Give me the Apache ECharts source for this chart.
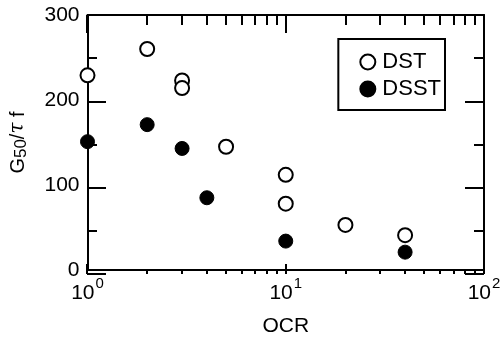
<!DOCTYPE html>
<html><head><meta charset="utf-8">
<script src="https://cdn.jsdelivr.net/npm/echarts@6/dist/echarts.min.js"></script>
<style>html,body{margin:0;padding:0;background:#fff}#c{width:504px;height:342px}</style>
</head><body><div id="c"></div>
<script>
var dstX = [1, 2, 3, 3, 5, 10, 10, 20, 40];
var dstY = [229, 260, 223, 214, 145, 112, 78, 53, 41];
var dsstX = [1, 2, 3, 4, 10, 40];
var dsstY = [151, 171, 143, 85, 34, 21];
var xMajor = [1, 10, 100];
var xMinor = [2, 3, 4, 5, 6, 7, 8, 9, 20, 30, 40, 50, 60, 70, 80, 90];
var xLabelExp = {1: '0', 10: '1', 100: '2'};
var yMajor = [0, 100, 200, 300];

function pairs(xs, ys) { return xs.map(function (x, i) { return [x, ys[i]]; }); }

var FONT = 'Liberation Sans, Arial, sans-serif';
var black = '#000';
var L = 87, R = 20, T = 15, B = 68;
var chart = echarts.init(document.getElementById('c'));

var grids = [{left: L, right: R, top: T, bottom: B}];
var xAxes = [], yAxes = [];
var line2 = {color: black, width: 2};

// main frame axes (grid 0)
xAxes.push({
  type: 'log', logBase: 10, min: 1, max: 100, position: 'bottom', gridIndex: 0,
  axisLine: {show: true, onZero: false, lineStyle: line2},
  axisTick: {show: false, customValues: xMajor},
  axisLabel: {
    show: true, customValues: xMajor, margin: 6, color: black, fontFamily: FONT,
    formatter: function (v) { return '{b|10}{s|' + xLabelExp[Math.round(v)] + '}'; },
    rich: {
      b: {fontSize: 21, fontFamily: FONT, color: black, verticalAlign: 'bottom', lineHeight: 28},
      s: {fontSize: 15, fontFamily: FONT, color: black, verticalAlign: 'top', lineHeight: 28, padding: [0, 0, 10, 1]}
    }
  },
  splitLine: {show: false},
  name: 'OCR', nameLocation: 'middle', nameGap: 46,
  nameTextStyle: {fontSize: 21, fontFamily: FONT, color: black}
});
xAxes.push({
  type: 'log', logBase: 10, min: 1, max: 100, position: 'top', gridIndex: 0,
  axisLine: {show: true, onZero: false, lineStyle: line2},
  axisTick: {show: false}, axisLabel: {show: false}, splitLine: {show: false}
});
yAxes.push({
  type: 'value', min: 0, max: 300, interval: 100, position: 'left', gridIndex: 0,
  axisLine: {show: true, onZero: false, lineStyle: line2},
  axisTick: {show: false},
  axisLabel: {show: true, margin: 8, fontSize: 21, fontFamily: FONT, color: black},
  splitLine: {show: false},
  name: '{a|G}{s|50}{a|/}{i|τ}{a| f}',
  nameLocation: 'middle', nameGap: 58, nameRotate: 90,
  nameTextStyle: {
    color: black,
    rich: {
      a: {fontSize: 20, fontFamily: FONT, color: black},
      s: {fontSize: 17, fontFamily: FONT, color: black, verticalAlign: 'bottom', padding: [6, 0, 0, 0]},
      i: {fontSize: 20, fontFamily: 'DejaVu Serif, serif', fontStyle: 'italic', color: black}
    }
  }
});
yAxes.push({
  type: 'value', min: 0, max: 300, interval: 100, position: 'right', gridIndex: 0,
  axisLine: {show: true, onZero: false, lineStyle: line2},
  axisTick: {show: false}, axisLabel: {show: false}, splitLine: {show: false}
});

// tick strips: small grids whose split lines are the inward ticks
function hiddenX(g) { return {type: 'log', logBase: 10, min: 1, max: 100, gridIndex: g, show: false, axisLine: {onZero: false}}; }
function hiddenY(g) { return {type: 'value', min: 0, max: 300, gridIndex: g, show: false, axisLine: {onZero: false}}; }
function xStrip(rect, vals) {
  var g = grids.length;
  grids.push(Object.assign({left: L, right: R}, rect));
  xAxes.push({
    type: 'log', logBase: 10, min: 1, max: 100, gridIndex: g,
    axisLine: {show: false, onZero: false},
    axisTick: {show: false, customValues: vals},
    axisLabel: {show: false},
    splitLine: {show: true, lineStyle: line2}
  });
  yAxes.push(hiddenY(g));
}
function yStrip(rect, step) {
  var g = grids.length;
  grids.push(Object.assign({top: T, bottom: B}, rect));
  yAxes.push({
    type: 'value', min: 0, max: 300, interval: step, gridIndex: g,
    axisLine: {show: false, onZero: false},
    axisTick: {show: false},
    axisLabel: {show: false},
    splitLine: {show: true, lineStyle: line2}
  });
  xAxes.push(hiddenX(g));
}
xStrip({bottom: B, height: 10}, xMajor);
xStrip({bottom: B, height: 5}, xMinor);
xStrip({top: T, height: 18}, xMajor);
xStrip({top: T, height: 10}, xMinor);
yStrip({left: L, width: 19}, 100);
yStrip({left: L, width: 10}, 50);
yStrip({right: R, width: 19}, 100);
yStrip({right: R, width: 10}, 50);

chart.setOption({
  backgroundColor: '#fff',
  animation: false,
  grid: grids,
  legend: {
    right: 59, top: 39, orient: 'vertical',
    borderColor: black, borderWidth: 2, borderRadius: 0,
    padding: [12, 4, 10, 21], itemGap: 5, itemWidth: 15, itemHeight: 15,
    textStyle: {fontSize: 22, fontFamily: FONT, color: black, padding: [0, 0, 0, 2]},
    data: [{name: 'DST', icon: 'circle'}, {name: 'DSST', icon: 'circle'}]
  },
  xAxis: xAxes,
  yAxis: yAxes,
  series: [
    {name: 'DST', type: 'scatter', xAxisIndex: 0, yAxisIndex: 0, symbol: 'circle', symbolSize: 14,
     itemStyle: {color: '#fff', borderColor: black, borderWidth: 2, opacity: 1},
     data: pairs(dstX, dstY), z: 3},
    {name: 'DSST', type: 'scatter', xAxisIndex: 0, yAxisIndex: 0, symbol: 'circle', symbolSize: 14,
     itemStyle: {color: black, borderColor: black, borderWidth: 1, opacity: 1},
     data: pairs(dsstX, dsstY), z: 3}
  ]
});
</script></body></html>
